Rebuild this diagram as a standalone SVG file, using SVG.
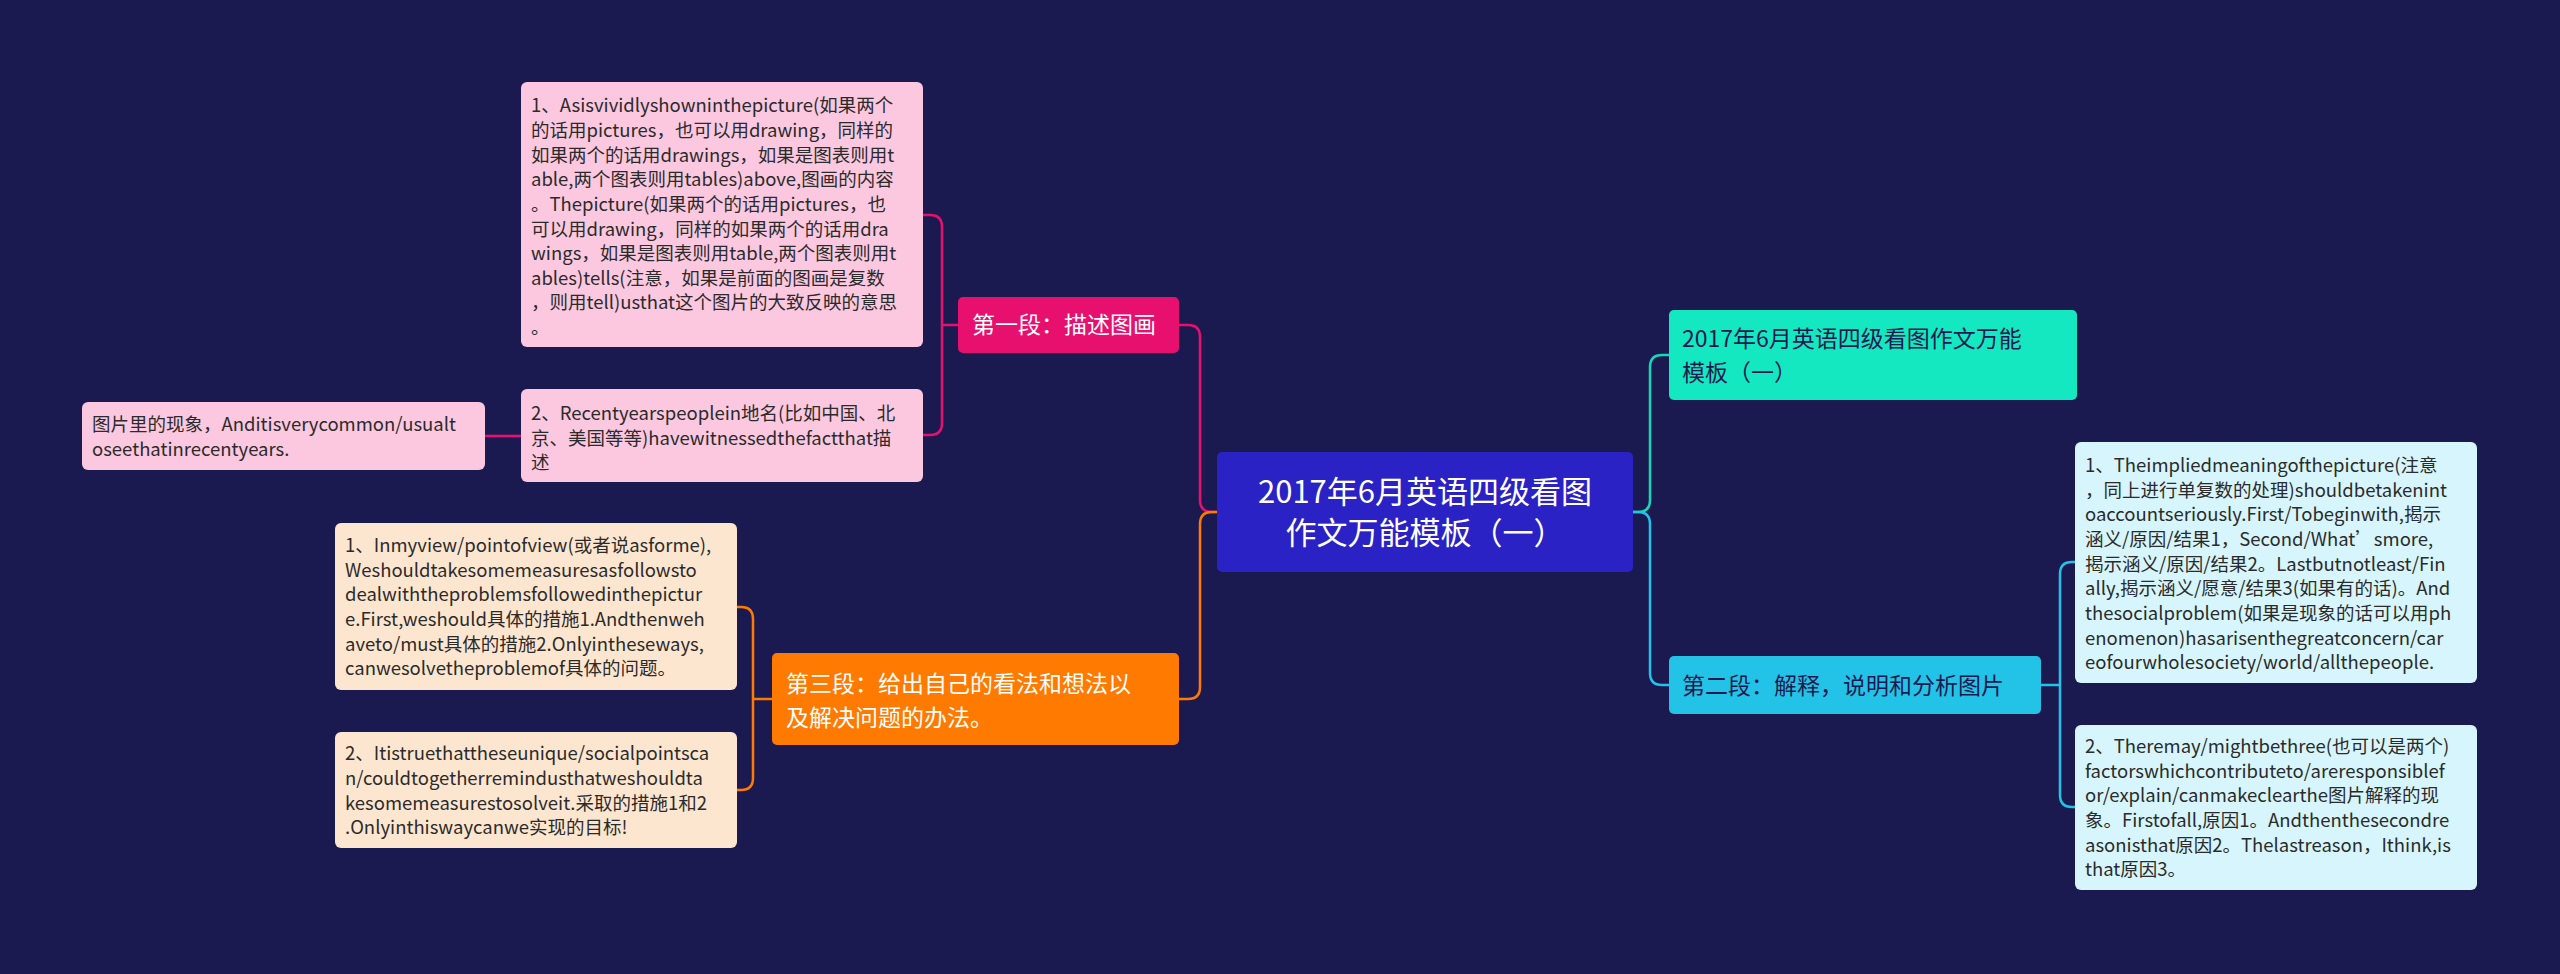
<svg xmlns="http://www.w3.org/2000/svg" width="2560" height="974" viewBox="0 0 2560 974">
<style>
text{font-family:"Noto Sans CJK SC","Noto Sans",sans-serif}
.t{font-size:18.5px;fill:#2b2b2b}
.c{fill:none;stroke-width:2.5}
.w{fill:#fff}
</style>
<rect width="2560" height="974" fill="#1b1a50"/>
<g id="connectors">
<path class="c" stroke="#e8106f" d="M1217 512 H1212 Q1200 512 1200 500 V337 Q1200 325 1188 325 H1179"/>
<path class="c" stroke="#ff7a00" d="M1217 512 H1212 Q1200 512 1200 524 V687 Q1200 699 1188 699 H1179"/>
<path class="c" stroke="#14d8b8" d="M1633 512 H1638 Q1650 512 1650 500 V367 Q1650 355 1662 355 H1669"/>
<path class="c" stroke="#22c3e6" d="M1633 512 H1638 Q1650 512 1650 524 V673 Q1650 685 1662 685 H1669"/>
<path class="c" stroke="#e8106f" d="M958 325 H942 M923 215 H930 Q942 215 942 227 V423 Q942 435 930 435 H923"/>
<path class="c" stroke="#e8106f" d="M521 436 H485"/>
<path class="c" stroke="#ff7a00" d="M772 699 H753 M737 607 H741 Q753 607 753 619 V778 Q753 790 741 790 H737"/>
<path class="c" stroke="#22c3e6" d="M2041 685 H2060 M2075 562 H2072 Q2060 562 2060 574 V795 Q2060 807 2072 807 H2075"/>
</g>
<g id="center">
<rect x="1217" y="452" width="416" height="120" rx="5" fill="#2a22c4"/>
<text class="w" font-size="31" text-anchor="middle" x="1425" y="503">2017年6月英语四级看图</text>
<text class="w" font-size="31" text-anchor="middle" x="1425" y="544">作文万能模板（一）</text>
</g>
<g id="p1">
<rect x="958" y="297" width="221" height="56" rx="5" fill="#e8106f"/>
<text class="w" font-size="23" x="972" y="333">第一段：描述图画</text>
</g>
<g id="p1a">
<rect x="521" y="82" width="402" height="265" rx="6" fill="#fbc8e0"/>
<text class="t" x="531" y="112">1、Asisvividlyshowninthepicture(如果两个</text>
<text class="t" x="531" y="137">的话用pictures，也可以用drawing，同样的</text>
<text class="t" x="531" y="162">如果两个的话用drawings，如果是图表则用t</text>
<text class="t" x="531" y="186">able,两个图表则用tables)above,图画的内容</text>
<text class="t" x="531" y="211">。Thepicture(如果两个的话用pictures，也</text>
<text class="t" x="531" y="236">可以用drawing，同样的如果两个的话用dra</text>
<text class="t" x="531" y="260">wings，如果是图表则用table,两个图表则用t</text>
<text class="t" x="531" y="285">ables)tells(注意，如果是前面的图画是复数</text>
<text class="t" x="531" y="309">，则用tell)usthat这个图片的大致反映的意思</text>
<text class="t" x="531" y="334">。</text>
</g>
<g id="p1b">
<rect x="521" y="389" width="402" height="93" rx="6" fill="#fbc8e0"/>
<text class="t" x="531" y="420">2、Recentyearspeoplein地名(比如中国、北</text>
<text class="t" x="531" y="445">京、美国等等)havewitnessedthefactthat描</text>
<text class="t" x="531" y="469">述</text>
</g>
<g id="p1b1">
<rect x="82" y="402" width="403" height="68" rx="6" fill="#fbc8e0"/>
<text class="t" x="92" y="431">图片里的现象，Anditisverycommon/usualt</text>
<text class="t" x="92" y="456">oseethatinrecentyears.</text>
</g>
<g id="p3">
<rect x="772" y="653" width="407" height="92" rx="5" fill="#ff7a00"/>
<text class="w" font-size="23" x="786" y="692">第三段：给出自己的看法和想法以</text>
<text class="w" font-size="23" x="786" y="726">及解决问题的办法。</text>
</g>
<g id="p3a">
<rect x="335" y="523" width="402" height="167" rx="6" fill="#fde6cf"/>
<text class="t" x="345" y="552">1、Inmyview/pointofview(或者说asforme),</text>
<text class="t" x="345" y="577">Weshouldtakesomemeasuresasfollowsto</text>
<text class="t" x="345" y="601">dealwiththeproblemsfollowedinthepictur</text>
<text class="t" x="345" y="626">e.First,weshould具体的措施1.Andthenweh</text>
<text class="t" x="345" y="651">aveto/must具体的措施2.Onlyintheseways,</text>
<text class="t" x="345" y="675">canwesolvetheproblemof具体的问题。</text>
</g>
<g id="p3b">
<rect x="335" y="732" width="402" height="116" rx="6" fill="#fde6cf"/>
<text class="t" x="345" y="760">2、Itistruethattheseunique/socialpointsca</text>
<text class="t" x="345" y="785">n/couldtogetherremindusthatweshouldta</text>
<text class="t" x="345" y="810">kesomemeasurestosolveit.采取的措施1和2</text>
<text class="t" x="345" y="834">.Onlyinthiswaycanwe实现的目标!</text>
</g>
<g id="title2">
<rect x="1669" y="310" width="408" height="90" rx="5" fill="#14e8c0"/>
<text font-size="23" fill="#1b1a50" x="1682" y="347">2017年6月英语四级看图作文万能</text>
<text font-size="23" fill="#1b1a50" x="1682" y="381">模板（一）</text>
</g>
<g id="p2">
<rect x="1669" y="656" width="372" height="58" rx="5" fill="#22c3e6"/>
<text font-size="23" fill="#1b1a50" x="1682" y="694">第二段：解释，说明和分析图片</text>
</g>
<g id="p2a">
<rect x="2075" y="442" width="402" height="241" rx="6" fill="#d7f5fc"/>
<text class="t" x="2085" y="472">1、Theimpliedmeaningofthepicture(注意</text>
<text class="t" x="2085" y="497">，同上进行单复数的处理)shouldbetakenint</text>
<text class="t" x="2085" y="521">oaccountseriously.First/Tobeginwith,揭示</text>
<text class="t" x="2085" y="546">涵义/原因/结果1，Second/What’smore,</text>
<text class="t" x="2085" y="571">揭示涵义/原因/结果2。Lastbutnotleast/Fin</text>
<text class="t" x="2085" y="595">ally,揭示涵义/愿意/结果3(如果有的话)。And</text>
<text class="t" x="2085" y="620">thesocialproblem(如果是现象的话可以用ph</text>
<text class="t" x="2085" y="645">enomenon)hasarisenthegreatconcern/car</text>
<text class="t" x="2085" y="669">eofourwholesociety/world/allthepeople.</text>
</g>
<g id="p2b">
<rect x="2075" y="725" width="402" height="165" rx="6" fill="#d7f5fc"/>
<text class="t" x="2085" y="753">2、Theremay/mightbethree(也可以是两个)</text>
<text class="t" x="2085" y="778">factorswhichcontributeto/areresponsiblef</text>
<text class="t" x="2085" y="802">or/explain/canmakeclearthe图片解释的现</text>
<text class="t" x="2085" y="827">象。Firstofall,原因1。Andthenthesecondre</text>
<text class="t" x="2085" y="852">asonisthat原因2。Thelastreason，Ithink,is</text>
<text class="t" x="2085" y="876">that原因3。</text>
</g>
</svg>
